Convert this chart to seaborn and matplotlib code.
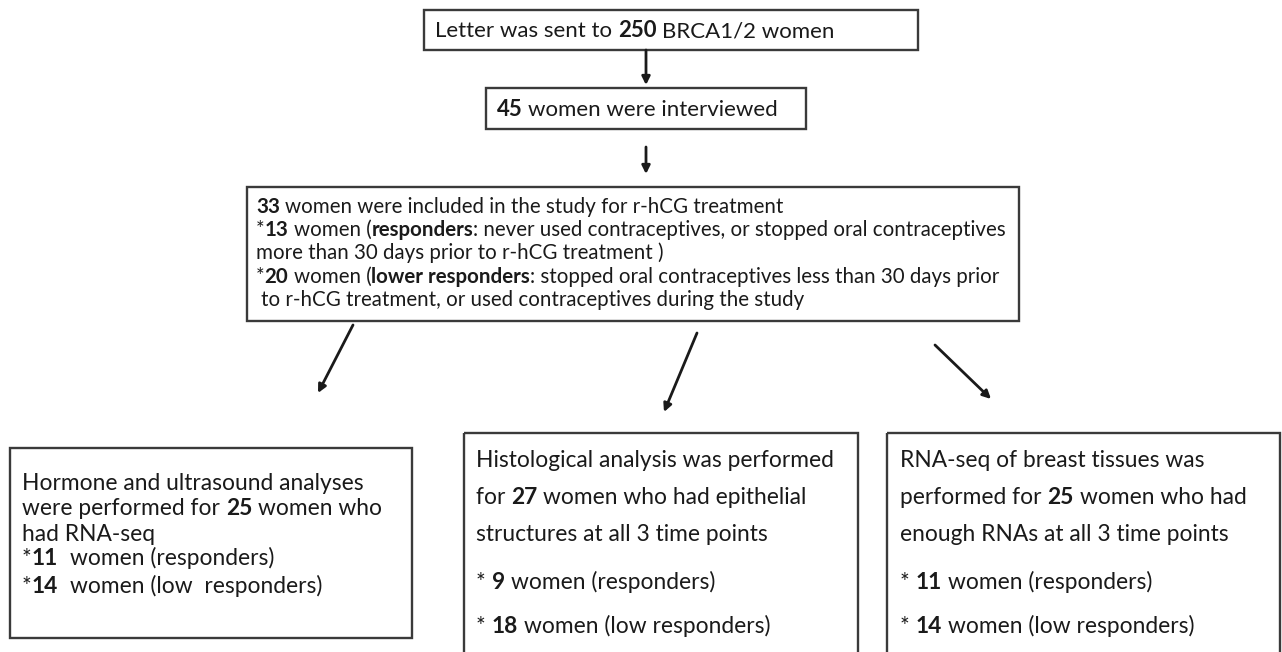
import re
import matplotlib
matplotlib.use("Agg")
import matplotlib.pyplot as plt
import seaborn as sns
from matplotlib.patches import Rectangle, FancyArrowPatch

# ---------------- content (bold parts in {braces}) ----------------
box_letter = ["Letter was sent to {250} BRCA1/2 women"]
box_interview = ["{45} women were interviewed"]
box_included = [
    "{33} women were included in the study for r-hCG treatment",
    "*{13} women ({responders}: never used contraceptives, or stopped oral contraceptives",
    "more than 30 days prior to r-hCG treatment )",
    "*{20} women ({lower responders}: stopped oral contraceptives less than 30 days prior",
    " to r-hCG treatment, or used contraceptives during the study",
]
box_hormone = [
    "Hormone and ultrasound analyses",
    "were performed for {25} women who",
    "had RNA-seq",
    "*{11}  women (responders)",
    "*{14}  women (low  responders)",
]
box_histo = [
    "Histological analysis was performed",
    "for {27} women who had epithelial",
    "structures at all 3 time points",
    "* {9} women (responders)",
    "* {18} women (low responders)",
]
box_rnaseq = [
    "RNA-seq of breast tissues was",
    "performed for {25} women who had",
    "enough RNAs at all 3 time points",
    "* {11} women (responders)",
    "* {14} women (low responders)",
]

# ---------------- style ----------------
sns.set_theme(style="white")
plt.rcParams['font.family'] = ['Lato', 'DejaVu Sans']
INK = "#1a1a1a"
EDGE = "#3a3a3a"

fig = plt.figure(figsize=(12.82, 6.52), dpi=100)
ax = fig.add_axes([0, 0, 1, 1])
ax.set_xlim(0, 1282)
ax.set_ylim(652, 0)
ax.axis("off")
renderer = fig.canvas.get_renderer()


def raw_width(s, size, weight):
    t = ax.text(0, 0, s, fontsize=size, fontweight=weight)
    w = t.get_window_extent(renderer).width
    t.remove()
    return w


def advance(s, size, weight):
    # width including trailing spaces, measured with a sentinel glyph
    if not s:
        return 0.0
    return raw_width(s + "|", size, weight) - raw_width("|", size, weight)


def draw_rich(x, y, markup, size):
    parts = re.split(r"(\{[^}]*\})", markup)
    cx = x
    for p in parts:
        if not p:
            continue
        bold = p.startswith("{")
        s = p[1:-1] if bold else p
        weight = "bold" if bold else "normal"
        lead = len(s) - len(s.lstrip(" "))
        if lead:
            cx += advance(" " * lead, size, weight)
        core = s.lstrip(" ")
        if core.strip():
            ax.text(cx, y, core, fontsize=size, fontweight=weight,
                    color=INK, va="baseline", ha="left")
        cx += advance(core, size, weight)


def draw_box(x0, y0, x1, y1):
    ax.add_patch(Rectangle((x0, y0), x1 - x0, y1 - y0, fill=False,
                           edgecolor=EDGE, linewidth=1.7))


def draw_block(lines, x, baselines, size):
    for line, by in zip(lines, baselines):
        draw_rich(x, by, line, size)


def arrow(p0, p1):
    ax.add_patch(FancyArrowPatch(p0, p1, arrowstyle="-|>", mutation_scale=12,
                                 color=INK, linewidth=2.0, shrinkA=0, shrinkB=0))


# top boxes
draw_box(424, 10, 918, 50)
draw_block(box_letter, 435, [37], 16.0)
arrow((646, 50), (646, 85))

draw_box(486, 88, 806, 129)
draw_block(box_interview, 497, [116], 16.0)
arrow((646, 147), (646, 174))

# central box
draw_box(247, 187, 1019, 321)
draw_block(box_included, 256, [213, 236, 259, 283, 306], 14.8)

# diverging arrows
arrow((353, 325), (318, 393))
arrow((697, 333), (664, 412))
arrow((935, 345), (991, 399))

# bottom boxes
draw_box(10, 448, 412, 638)
draw_block(box_hormone, 22, [490, 515, 541, 565, 593], 16.4)

draw_box(464, 433, 858, 660)
draw_block(box_histo, 476, [467, 504, 541, 589, 633], 16.4)

draw_box(887, 433, 1280, 660)
draw_block(box_rnaseq, 900, [467, 504, 541, 589, 633], 16.4)

fig.savefig("out.png", dpi=100, facecolor="white")
